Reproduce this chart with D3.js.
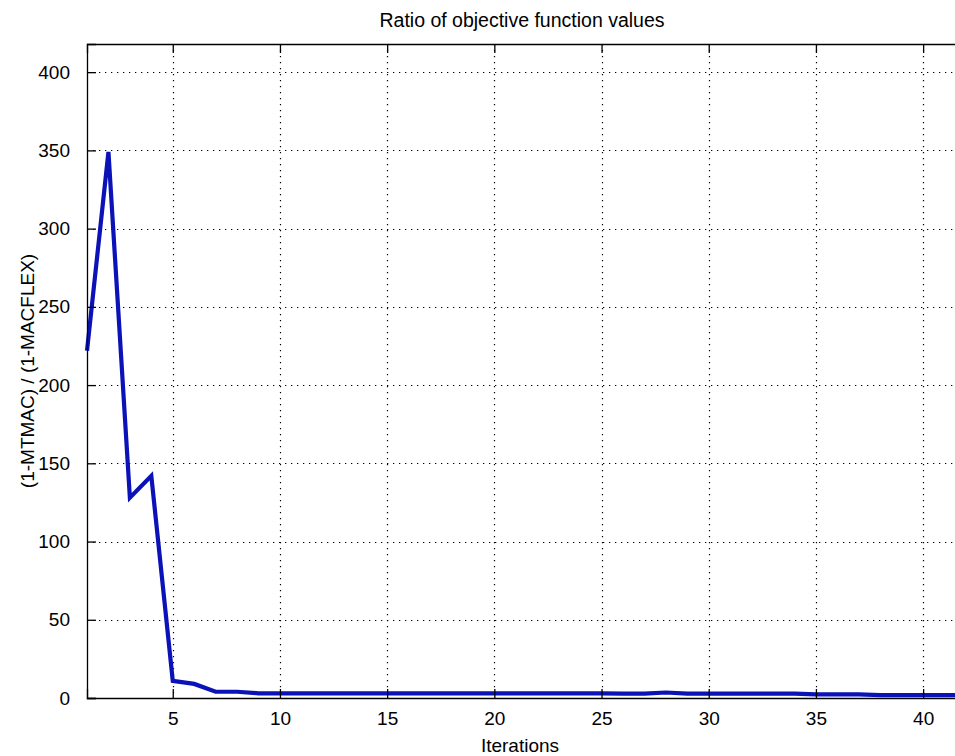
<!DOCTYPE html>
<html>
<head>
<meta charset="utf-8">
<script src="https://cdn.jsdelivr.net/npm/d3@7"></script>
<style>
  html, body { margin: 0; padding: 0; background: #ffffff; }
  svg { display: block; }
  text { font-family: "Liberation Sans", Arial, sans-serif; fill: #000; }
</style>
</head>
<body>
<svg id="chart" width="955" height="756"></svg>
<script>
// ---- data ----
const iterations = [1,2,3,4,5,6,7,8,9,10,11,12,13,14,15,16,17,18,19,20,21,22,23,24,25,26,27,28,29,30,31,32,33,34,35,36,37,38,39,40,41,42];
const ratioValues = [222,349,128,142,11,9,4,4,3,3,3,3,3,3,3,3,3,3,3,3,3,3,3,3,3,2.8,2.8,3.5,2.8,2.8,2.8,2.8,2.8,2.8,2.3,2.3,2.3,1.8,1.8,1.8,1.8,1.8];
const xTicks = [5,10,15,20,25,30,35,40];
const yTicks = [0,50,100,150,200,250,300,350,400];
const titleText = "Ratio of objective function values";
const xLabelText = "Iterations";
const yLabelText = "(1-MTMAC) / (1-MACFLEX)";

// ---- layout ----
const svg = d3.select("#chart");
const padL = 87, padT = 44, padB = 698, padR = 966;
const x = d3.scaleLinear().domain([1, 42]).range([padL, padR]);
const y = d3.scaleLinear().domain([0, 418]).range([padB, padT]);

const g = svg.append("g");

// grid
g.append("g").selectAll("line").data(xTicks).join("line")
  .attr("x1", d => Math.round(x(d)) + 0.5).attr("x2", d => Math.round(x(d)) + 0.5)
  .attr("y1", padT).attr("y2", padB)
  .attr("stroke", "#000").attr("stroke-width", 1.2).attr("stroke-dasharray", "1.3,4.7");
g.append("g").selectAll("line").data(yTicks.filter(d => d > 0)).join("line")
  .attr("y1", d => Math.round(y(d)) + 0.5).attr("y2", d => Math.round(y(d)) + 0.5)
  .attr("x1", padL).attr("x2", padR)
  .attr("stroke", "#000").attr("stroke-width", 1.2).attr("stroke-dasharray", "1.3,4.7");

// data line
const line = d3.line().x((d, i) => x(iterations[i])).y(d => y(d));
g.append("path").datum(ratioValues)
  .attr("d", line)
  .attr("fill", "none")
  .attr("stroke", "#0a12b8")
  .attr("stroke-width", 4.2)
  .attr("stroke-linejoin", "miter");

// axes (inward ticks, MATLAB box)
const tickLen = 9;
const xAxisB = d3.axisBottom(x).tickValues(xTicks).tickSize(-tickLen).tickPadding(tickLen + 5).tickFormat(d3.format("d"));
const xAxisT = d3.axisTop(x).tickValues(xTicks).tickSize(-tickLen).tickFormat("");
const yAxisL = d3.axisLeft(y).tickValues(yTicks).tickSize(-tickLen).tickPadding(tickLen + 8).tickFormat(d3.format("d"));

function styleAxis(sel) {
  sel.select(".domain").attr("stroke", "#000").attr("stroke-width", 1.3);
  sel.selectAll(".tick line").attr("stroke", "#000").attr("stroke-width", 1.3);
  sel.selectAll(".tick text").style("font-size", "19px").attr("fill", "#000")
     .style("font-family", "'Liberation Sans', Arial, sans-serif");
}
g.append("g").attr("transform", `translate(0,${padB})`).call(xAxisB).call(styleAxis);
g.append("g").attr("transform", `translate(0,${padT})`).call(xAxisT).call(styleAxis);
g.append("g").attr("transform", `translate(${padL},0)`).call(yAxisL).call(styleAxis);

// titles
svg.append("text").attr("x", 522).attr("y", 27).attr("text-anchor", "middle")
  .style("font-size", "19.5px").text(titleText);
svg.append("text").attr("x", 520).attr("y", 752).attr("text-anchor", "middle")
  .style("font-size", "19px").text(xLabelText);
svg.append("text").attr("transform", `translate(34,${(padT + padB) / 2}) rotate(-90)`)
  .attr("text-anchor", "middle").style("font-size", "19px").text(yLabelText);
</script>
</body>
</html>
